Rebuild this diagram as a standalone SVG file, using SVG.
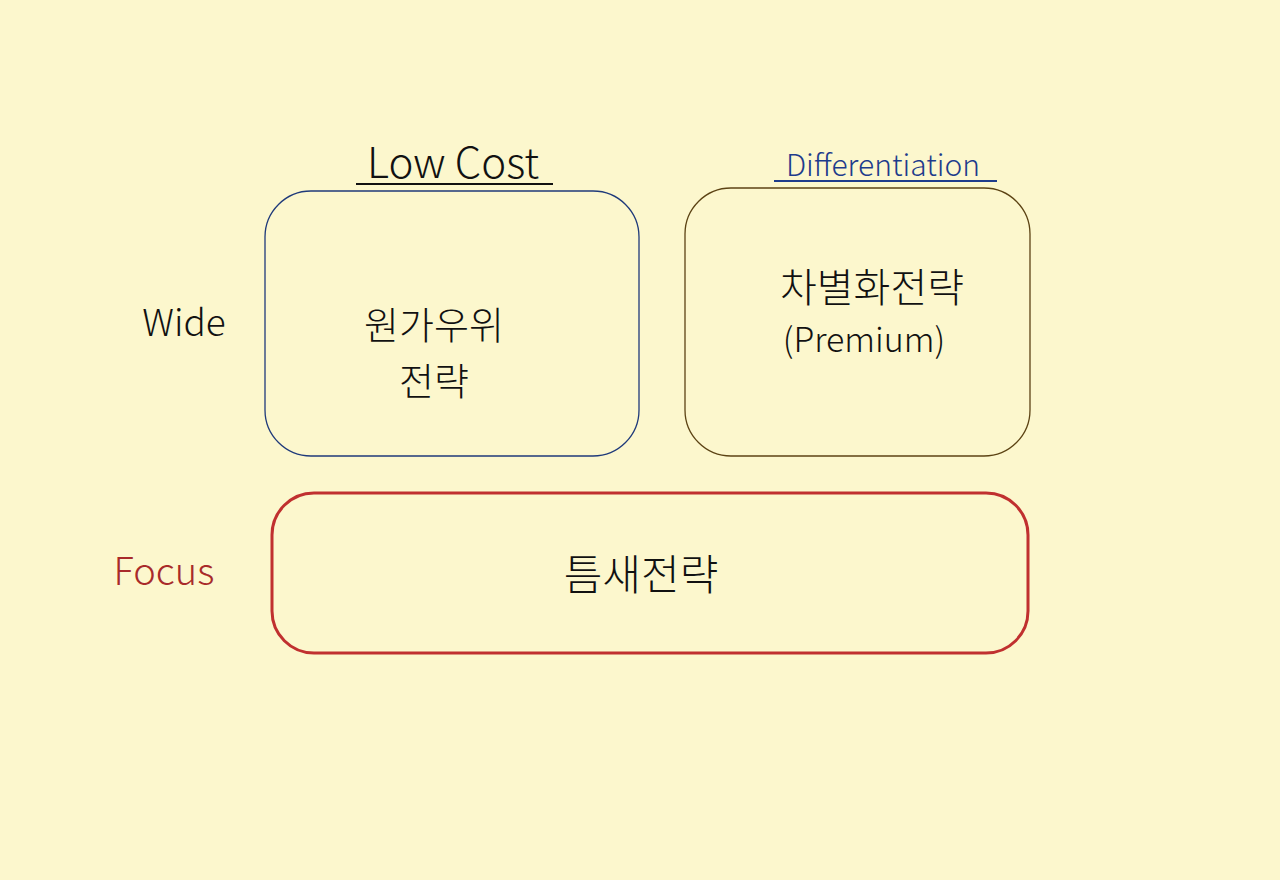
<svg xmlns="http://www.w3.org/2000/svg" width="1280" height="880" viewBox="0 0 1280 880">
<style>
.t{font-family:"Noto Sans CJK KR","Noto Sans",sans-serif;font-weight:300;text-anchor:middle}
.box{fill:none}
</style>
<rect width="1280" height="880" fill="#FCF7CD"/>
<g id="header-lowcost">
<text class="t" x="453" y="178" font-size="42" fill="#111">Low Cost</text>
<line x1="356" y1="184" x2="553" y2="184" stroke="#111" stroke-width="2"/>
</g>
<g id="header-diff">
<text class="t" x="883" y="176" font-size="30" fill="#1E3C8C">Differentiation</text>
<line x1="774" y1="181" x2="997" y2="181" stroke="#1E3C8C" stroke-width="2"/>
</g>
<g id="label-wide">
<text class="t" x="184" y="336" font-size="37" fill="#111">Wide</text>
</g>
<g id="label-focus">
<text class="t" x="164" y="585" font-size="38" fill="#A82A2A">Focus</text>
</g>
<g id="node-lowcost">
<rect class="box" x="265" y="191" width="374" height="265" rx="46" stroke="#1F3A7A" stroke-width="1.3"/>
<text class="t" x="434" y="339" font-size="38" fill="#111">원가우위</text>
<text class="t" x="434" y="395" font-size="38" fill="#111">전략</text>
</g>
<g id="node-diff">
<rect class="box" x="685" y="188" width="345" height="268" rx="46" stroke="#5C4314" stroke-width="1.3"/>
<text class="t" x="872" y="302" font-size="40" fill="#111">차별화전략</text>
<text class="t" x="864" y="352" font-size="34" fill="#111">(Premium)</text>
</g>
<g id="node-focus">
<rect class="box" x="272" y="493" width="756" height="160" rx="42" stroke="#C0302F" stroke-width="3"/>
<text class="t" x="641" y="590" font-size="42" fill="#111">틈새전략</text>
</g>
<g id="connectors"></g>
</svg>
